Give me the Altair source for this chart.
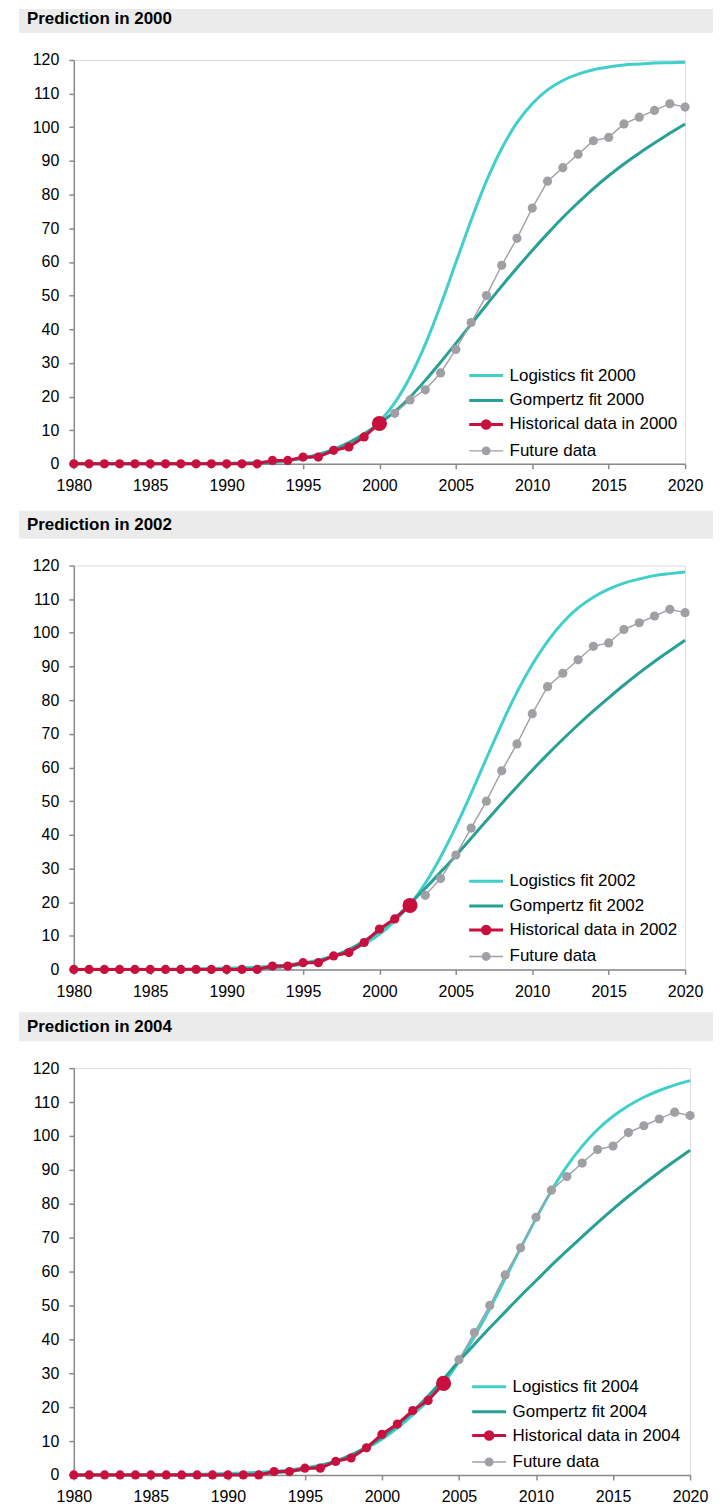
import altair as alt
import pandas as pd

# ---------------- data ----------------
years = list(range(1980, 2021))

observed = [0, 0, 0, 0, 0, 0, 0, 0, 0, 0, 0, 0, 0,
            1, 1, 2, 2, 4, 5, 8, 12, 15, 19, 22, 27, 34, 42, 50, 59, 67,
            76, 84, 88, 92, 96, 97, 101, 103, 105, 107, 106]

logistic_2000 = [0.0, 0.0, 0.01, 0.01, 0.01, 0.02, 0.03, 0.05, 0.08, 0.12,
                 0.19, 0.29, 0.44, 0.68, 1.04, 1.6, 2.4, 3.7, 5.6, 8.4,
                 12.5, 18.1, 25.8, 35.5, 47.1, 59.8, 72.4, 84.0, 93.7, 101.4,
                 107.0, 111.1, 113.9, 115.8, 117.1, 117.9, 118.5, 118.8, 119.1, 119.2,
                 119.3]
gompertz_2000 = [0, 0, 0, 0, 0, 0, 0, 0.01, 0.01, 0.02,
                 0.05, 0.12, 0.27, 0.5, 1.0, 1.7, 2.8, 4.3, 6.3, 8.9,
                 12.0, 15.5, 19.8, 24.8, 30.2, 35.8, 41.5, 47.2, 52.8, 58.2,
                 63.4, 68.4, 73.2, 77.6, 81.8, 85.6, 89.1, 92.3, 95.3, 98.2,
                 101.0]

logistic_2002 = [0.01, 0.01, 0.02, 0.03, 0.04, 0.06, 0.08, 0.12, 0.17, 0.24,
                 0.35, 0.49, 0.69, 0.98, 1.39, 1.95, 2.75, 3.9, 5.4, 7.5,
                 10.4, 14.3, 19.3, 25.6, 33.4, 42.4, 52.3, 62.7, 72.9, 82.4,
                 90.6, 97.5, 103.1, 107.4, 110.6, 113.0, 114.8, 116.0, 117.0, 117.6,
                 118.1]
gompertz_2002 = [0, 0, 0, 0, 0, 0, 0, 0, 0.01, 0.02,
                 0.05, 0.1, 0.25, 0.5, 0.9, 1.6, 2.6, 4.0, 5.9, 8.4,
                 11.5, 15.2, 19.5, 24.1, 28.9, 33.8, 39.0, 44.2, 49.3, 54.3,
                 59.2, 63.9, 68.4, 72.7, 76.8, 80.7, 84.5, 88.1, 91.5, 94.7,
                 97.8]

logistic_2004 = [0.02, 0.03, 0.04, 0.05, 0.07, 0.09, 0.12, 0.17, 0.23, 0.32,
                 0.43, 0.6, 0.8, 1.08, 1.5, 2.1, 2.9, 4.0, 5.6, 7.8,
                 10.5, 13.8, 17.7, 22.0, 27.0, 33.5, 40.8, 49.0, 57.9, 66.9,
                 75.6, 83.8, 91.0, 97.0, 101.9, 105.8, 108.9, 111.4, 113.4, 115.0,
                 116.3]
gompertz_2004 = [0, 0, 0, 0, 0, 0, 0, 0, 0, 0.02,
                 0.07, 0.15, 0.3, 0.6, 1.0, 1.7, 2.7, 4.1, 5.9, 8.2,
                 11.1, 14.6, 18.7, 23.3, 28.3, 33.6, 38.5, 43.4, 48.1, 52.8,
                 57.3, 61.8, 66.1, 70.3, 74.4, 78.4, 82.2, 85.8, 89.3, 92.6,
                 95.8]

x_ticks = [1980, 1985, 1990, 1995, 2000, 2005, 2010, 2015, 2020]
y_ticks = [0, 10, 20, 30, 40, 50, 60, 70, 80, 90, 100, 110, 120]

# ---------------- style ----------------
COL_LOG = "#40CFCB"
COL_GOM = "#28A096"
COL_HIST = "#C8103F"
COL_FUT = "#A09FA4"
BAR = "#EBEBEB"
FONT = "Liberation Sans"

LINE_SYM = "M-1.7,0H1.7"
DOT_SYM = "M-1.7,0H1.7M0.38,0A0.38,0.38,0,1,1,-0.38,0A0.38,0.38,0,1,1,0.38,0Z"


def panel(py, logistic, gompertz, w, h, bar_top, lx, ly_a, ly_b):
    n = len(years)
    log_name = f"Logistics fit {py}"
    gom_name = f"Gompertz fit {py}"
    hist_name = f"Historical data in {py}"
    fits = pd.DataFrame({
        "year": years + years,
        "value": logistic + gompertz,
        "fit": [log_name] * n + [gom_name] * n,
    })
    obs = pd.DataFrame({"year": years, "value": observed})
    obs["series"] = [hist_name if y <= py else "Future data" for y in years]
    title_df = pd.DataFrame({"title": [f"Prediction in {py}"]})

    axis_common = dict(title=None, grid=False, tickSize=5, domainColor="#8A8A8A",
                       tickColor="#8A8A8A", domainWidth=1.5, tickWidth=1.5,
                       labelFontSize=16, labelColor="#000000", labelFont=FONT,
                       labelFlush=False, labelOverlap=False)
    x_enc = alt.X("year:Q", scale=alt.Scale(domain=[1980, 2020], nice=False, zero=False),
                  axis=alt.Axis(values=x_ticks, format="d", labelPadding=9, **axis_common))
    y_enc = alt.Y("value:Q", scale=alt.Scale(domain=[0, 120], nice=False),
                  axis=alt.Axis(values=y_ticks, labelPadding=10, **axis_common))

    leg_common = dict(orient="none", symbolSize=400, labelFontSize=17, labelFont=FONT,
                      labelColor="#000000", labelOffset=12, rowPadding=5, labelLimit=400,
                      padding=0)
    fit_stroke = alt.Stroke("fit:N", title=None,
                            scale=alt.Scale(domain=[log_name, gom_name], range=[COL_LOG, COL_GOM]),
                            legend=alt.Legend(legendX=lx, legendY=ly_a, symbolType=LINE_SYM,
                                              symbolStrokeWidth=3, **leg_common))
    data_legend = alt.Legend(legendX=lx, legendY=ly_b, symbolType=DOT_SYM, **leg_common)
    data_color = alt.Color("series:N", title=None,
                           scale=alt.Scale(domain=[hist_name, "Future data"],
                                           range=[COL_HIST, COL_FUT]),
                           legend=data_legend)
    data_width = alt.StrokeWidth("series:N", title=None,
                                 scale=alt.Scale(domain=[hist_name, "Future data"],
                                                 range=[3, 1.4]),
                                 legend=data_legend)

    bar = alt.Chart(title_df).mark_rect(color=BAR).encode(
        x=alt.value(-55), x2=alt.value(641), y=alt.value(bar_top), y2=alt.value(-27))
    ttl = alt.Chart(title_df).mark_text(align="left", baseline="middle", fontSize=17,
                                        fontWeight="bold", font=FONT, color="#000000").encode(
        x=alt.value(-47), y=alt.value(-41), text="title:N")

    fit_lines = alt.Chart(fits).mark_line(strokeWidth=3, interpolate="monotone").encode(
        x=x_enc, y=y_enc, stroke=fit_stroke)

    base = alt.Chart(obs)
    fut = base.transform_filter(alt.datum.year > py)
    hist = base.transform_filter(alt.datum.year <= py)
    fut_line = fut.mark_line().encode(x=x_enc, y=y_enc, color=data_color, strokeWidth=data_width)
    fut_pts = fut.mark_circle(size=85, opacity=1).encode(x=x_enc, y=y_enc, color=data_color)
    hist_line = hist.mark_line().encode(x=x_enc, y=y_enc, color=data_color, strokeWidth=data_width)
    hist_pts = hist.mark_circle(size=85, opacity=1).encode(x=x_enc, y=y_enc, color=data_color)
    last_pt = base.transform_filter(alt.datum.year == py).mark_circle(size=230, opacity=1).encode(
        x=x_enc, y=y_enc, color=data_color)

    return alt.layer(bar, ttl, fit_lines, fut_line, fut_pts, hist_line, hist_pts, last_pt).properties(
        width=w, height=h)


p1 = panel(2000, logistic_2000, gompertz_2000, 613, 405, -51, 402, 305, 354)
p2 = panel(2002, logistic_2002, gompertz_2002, 613, 405, -55, 402, 305, 354)
p3 = panel(2004, logistic_2004, gompertz_2004, 618, 408, -56, 405, 308, 357)

top_pair = alt.vconcat(p1, p2, spacing=15).resolve_scale(
    color="independent", stroke="independent", strokeWidth="independent")

chart = alt.vconcat(top_pair, p3, spacing=11).resolve_scale(
    color="independent", stroke="independent", strokeWidth="independent").properties(
    padding={"left": 10, "top": -2, "right": 0, "bottom": 0}
).configure_view(stroke=None).configure(font=FONT)

chart.save("out.html", embed_options={"renderer": "svg", "actions": False})
